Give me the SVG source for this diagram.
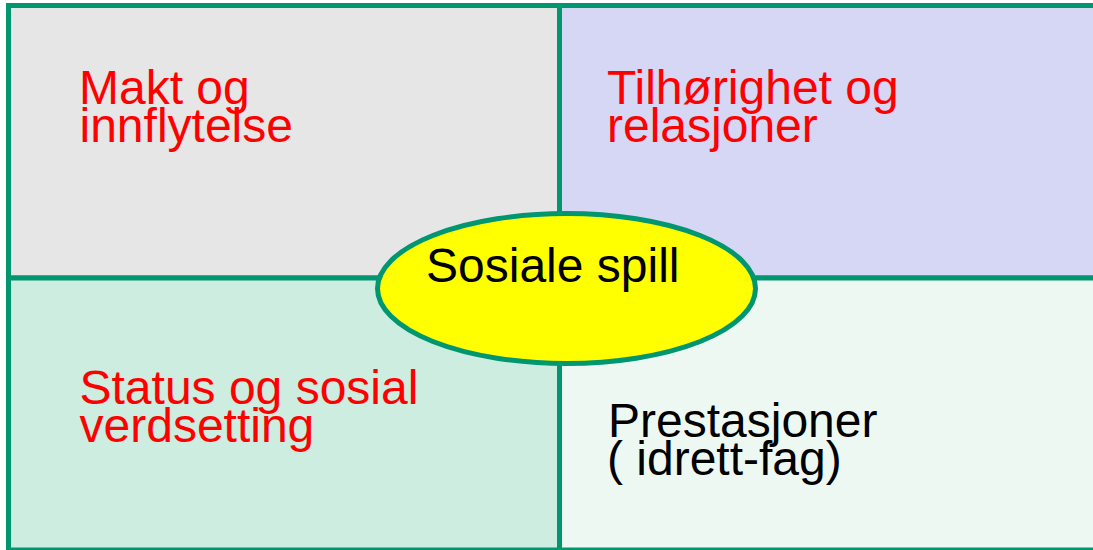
<svg xmlns="http://www.w3.org/2000/svg" width="1093" height="550" viewBox="0 0 1093 550">
  <style>
    .cell { stroke: #009670; stroke-width: 5; }
    .lbl { font-family: "Liberation Sans", Arial, sans-serif; font-size: 48px; }
    .red { fill: #ff0000; }
    .blk { fill: #000000; }
  </style>
  <rect x="0" y="0" width="1093" height="550" fill="#ffffff"/>
  <g id="makt">
    <rect class="cell" x="8.5" y="5.5" width="551" height="272.5" fill="#e6e6e6"/>
    <text class="lbl red" x="79" y="103.5">Makt og</text>
    <text class="lbl red" x="79.5" y="142">innflytelse</text>
  </g>
  <g id="tilhorighet">
    <rect class="cell" x="559.5" y="5.5" width="545" height="272.5" fill="#d6d6f5"/>
    <text class="lbl red" x="607" y="103.5">Tilhørighet og</text>
    <text class="lbl red" x="607" y="142">relasjoner</text>
  </g>
  <g id="status">
    <rect class="cell" x="8.5" y="278" width="551" height="272" fill="#ccede0"/>
    <text class="lbl red" x="79.5" y="403.5">Status og sosial</text>
    <text class="lbl red" x="79.5" y="442">verdsetting</text>
  </g>
  <g id="prestasjoner">
    <rect class="cell" x="559.5" y="278" width="545" height="272" fill="#eef8f3"/>
    <text class="lbl blk" x="608" y="437">Prestasjoner</text>
    <text class="lbl blk" x="607" y="475">( idrett-fag)</text>
  </g>
  <g id="sosiale-spill">
    <ellipse cx="566.5" cy="288.5" rx="189" ry="75" fill="#ffff00" stroke="#009670" stroke-width="5"/>
    <text class="lbl blk" x="426" y="282">Sosiale spill</text>
  </g>
  <g id="connectors"></g>
</svg>
